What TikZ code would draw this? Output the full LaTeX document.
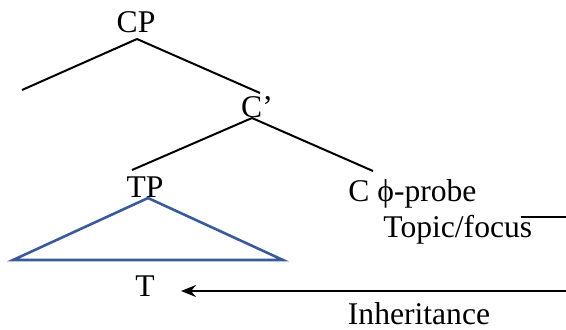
\documentclass[tikz,border=0pt]{standalone}
\usepackage{fontspec}
\setmainfont{Liberation Serif}
\usetikzlibrary{arrows.meta,calc}
\definecolor{TriBlue}{HTML}{3A5A9C}

\begin{document}
\begin{tikzpicture}[
    x=0.5pt, y=-0.5pt,
    cat/.style={
      anchor=base,
      inner sep=0pt,
      font=\fontsize{15.8}{18}\selectfont
    },
    branch/.style={
      line width=1pt,
      black
    },
    roof/.style={
      line width=1.3pt,
      TriBlue,
      line join=miter
    },
    inharrow/.style={
      -{Stealth[length=7.5pt,width=6pt,inset=2.5pt]},
      line width=1pt
    }
  ]
  \useasboundingbox (0,0) rectangle (566,329);

  % labels of the tree
  \node[cat] (cp) at (136,32) {CP};
  \node[cat] (cbar) at (257,117) {C’};
  \node[cat] (tp) at (145,197) {TP};
  \node[cat, anchor=base west] (cprobe) at (348,201) {C \symbol{"03D5}-probe};
  \node[cat, anchor=base west] (topic) at (383,237) {Topic/focus};
  \node[cat] (t) at (145,296) {T};
  \node[cat] (inher) at (419,324) {Inheritance};

  % branch ends
  \coordinate (cpfoot) at ($(cp.base)+(1,7)$);
  \coordinate (spec) at ($(cpfoot)+(-115,51)$);
  \coordinate (cbartop) at ($(cbar.base)+(3,-24)$);
  \coordinate (cbarfoot) at ($(cbar.base)+(-5,1)$);
  \coordinate (tptop) at ($(tp.base)+(-13,-27)$);
  \coordinate (ctop) at ($(cprobe.base west)+(25,-30)$);

  \draw[branch] (cpfoot) -- (spec);
  \draw[branch] (cpfoot) -- (cbartop);
  \draw[branch] (cbarfoot) -- (tptop);
  \draw[branch] (cbarfoot) -- (ctop);

  % TP roof
  \coordinate (apex) at ($(tp.base)+(3,1)$);
  \coordinate (roofL) at ($(apex)+(-135,62)$);
  \coordinate (roofR) at ($(apex)+(135,62)$);
  \draw[roof] (apex) -- (roofL) -- (roofR) -- cycle;

  % line over the topic/focus feature
  \coordinate (topicA) at ($(topic.base east)+(-12,-20)$);
  \coordinate (topicB) at (566,217);
  \draw[branch] (topicA) -- (topicB);

  % inheritance from C down to T
  \coordinate (inhstart) at (566,291);
  \coordinate (tin) at ($(t.east)+(26,0)$);
  \draw[inharrow] (inhstart) -- (tin |- inhstart);
\end{tikzpicture}
\end{document}
